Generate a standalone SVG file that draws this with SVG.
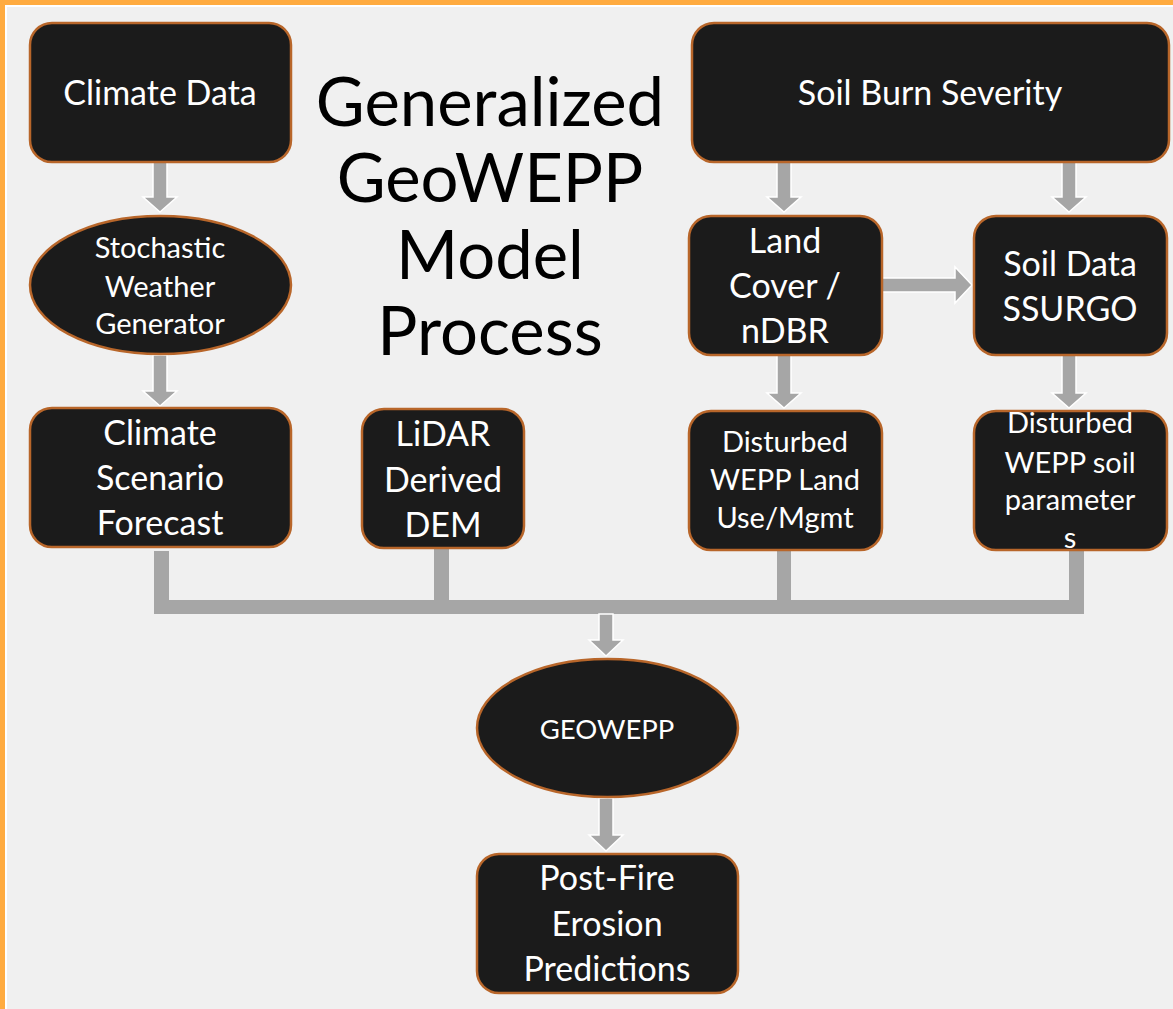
<svg xmlns="http://www.w3.org/2000/svg" width="1173" height="1009" viewBox="0 0 1173 1009">
  <defs>
    <style>
      .node { fill: #1b1b1b; stroke: #b8662a; stroke-width: 2.5; }
      .lbl { font-family: Lato, "Open Sans", sans-serif; fill: #ffffff; text-anchor: middle; }
      .big { font-size: 34px; }
      .small { font-size: 29px; }
      .caps { font-size: 27.5px; }
      .title { font-family: Lato, "Open Sans", sans-serif; font-size: 67px; fill: #000000; text-anchor: middle; }
      .arrow { fill: #a6a6a6; stroke: #ffffff; stroke-width: 1.5; stroke-linejoin: miter; }
      .bus { fill: #a6a6a6; }
    </style>
  </defs>

  <!-- page background with orange frame along top and left -->
  <rect x="0" y="0" width="1173" height="1009" fill="#ffab40"/>
  <rect x="5" y="5" width="1168" height="1004" fill="#ffffff"/>
  <rect x="7" y="7" width="1166" height="1002" fill="#f0f0f0"/>

  <!-- title -->
  <g id="title">
    <text class="title" x="490" y="126">Generalized</text>
    <text class="title" x="490" y="202">GeoWEPP</text>
    <text class="title" x="490" y="279">Model</text>
    <text class="title" x="490" y="355">Process</text>
  </g>

  <!-- connectors -->
  <g id="connectors">
    <polygon class="arrow" points="153,162 167,162 167,197 177,197 160,212 143,197 153,197"/>
    <polygon class="arrow" points="153,355 167,355 167,391 177,391 160,406 143,391 153,391"/>
    <polygon class="arrow" points="777,162 791,162 791,197 801,197 784,212 767,197 777,197"/>
    <polygon class="arrow" points="1062,162 1076,162 1076,197 1086,197 1069,212 1052,197 1062,197"/>
    <polygon class="arrow" points="777,355 791,355 791,393 801,393 784,408 767,393 777,393"/>
    <polygon class="arrow" points="1062,355 1076,355 1076,393 1086,393 1069,408 1052,393 1062,393"/>
    <polygon class="arrow" points="882,278 955,278 955,267 972,285 955,303 955,292 882,292"/>
    <!-- collector bus into GEOWEPP -->
    <rect class="bus" x="154" y="551" width="15" height="63"/>
    <rect class="bus" x="434" y="548" width="15" height="52"/>
    <rect class="bus" x="777" y="550" width="14" height="50"/>
    <rect class="bus" x="1069" y="550" width="15" height="64"/>
    <rect class="bus" x="154" y="600" width="930" height="14"/>
    <polygon class="arrow" points="599,614 613,614 613,640 623,640 606,656 589,640 599,640"/>
    <polygon class="arrow" points="599,798 613,798 613,835 623,835 606,851 589,835 599,835"/>
  </g>

  <g id="climate-data">
    <rect class="node" x="30" y="23" width="261" height="139" rx="22"/>
    <text class="lbl big" x="160" y="105">Climate Data</text>
  </g>

  <g id="weather-generator">
    <ellipse class="node" cx="160.5" cy="285" rx="130.5" ry="69"/>
    <text class="lbl small" x="160" y="258">Stochastic</text>
    <text class="lbl small" x="160" y="297">Weather</text>
    <text class="lbl small" x="160" y="334">Generator</text>
  </g>

  <g id="climate-scenario">
    <rect class="node" x="30" y="408" width="261" height="139" rx="22"/>
    <text class="lbl big" x="160" y="445">Climate</text>
    <text class="lbl big" x="160" y="490">Scenario</text>
    <text class="lbl big" x="160" y="535">Forecast</text>
  </g>

  <g id="lidar-dem">
    <rect class="node" x="362" y="409" width="162" height="139" rx="22"/>
    <text class="lbl big" x="443" y="446">LiDAR</text>
    <text class="lbl big" x="443" y="492">Derived</text>
    <text class="lbl big" x="443" y="537">DEM</text>
  </g>

  <g id="soil-burn-severity">
    <rect class="node" x="692" y="23" width="477" height="139" rx="22"/>
    <text class="lbl big" x="930" y="105">Soil Burn Severity</text>
  </g>

  <g id="land-cover">
    <rect class="node" x="689" y="216" width="193" height="139" rx="22"/>
    <text class="lbl big" x="785" y="253">Land</text>
    <text class="lbl big" x="785" y="298">Cover /</text>
    <text class="lbl big" x="785" y="343">nDBR</text>
  </g>

  <g id="soil-data">
    <rect class="node" x="974" y="216" width="193" height="139" rx="22"/>
    <text class="lbl big" x="1070" y="276">Soil Data</text>
    <text class="lbl big" x="1070" y="321">SSURGO</text>
  </g>

  <g id="wepp-land-use">
    <rect class="node" x="689" y="411" width="193" height="139" rx="22"/>
    <text class="lbl small" x="785" y="452">Disturbed</text>
    <text class="lbl small" x="785" y="490">WEPP Land</text>
    <text class="lbl small" x="785" y="528">Use/Mgmt</text>
  </g>

  <g id="wepp-soil-params">
    <rect class="node" x="974" y="411" width="193" height="139" rx="22"/>
    <text class="lbl small" x="1070" y="433">Disturbed</text>
    <text class="lbl small" x="1070" y="473">WEPP soil</text>
    <text class="lbl small" x="1070" y="510">parameter</text>
    <text class="lbl small" x="1070" y="548">s</text>
  </g>

  <g id="geowepp">
    <ellipse class="node" cx="607.5" cy="728" rx="130.5" ry="69"/>
    <text class="lbl caps" x="607" y="739">GEOWEPP</text>
  </g>

  <g id="post-fire-erosion">
    <rect class="node" x="477" y="854" width="261" height="139" rx="22"/>
    <text class="lbl big" x="607" y="890">Post-Fire</text>
    <text class="lbl big" x="607" y="936">Erosion</text>
    <text class="lbl big" x="607" y="981">Predictions</text>
  </g>
</svg>
